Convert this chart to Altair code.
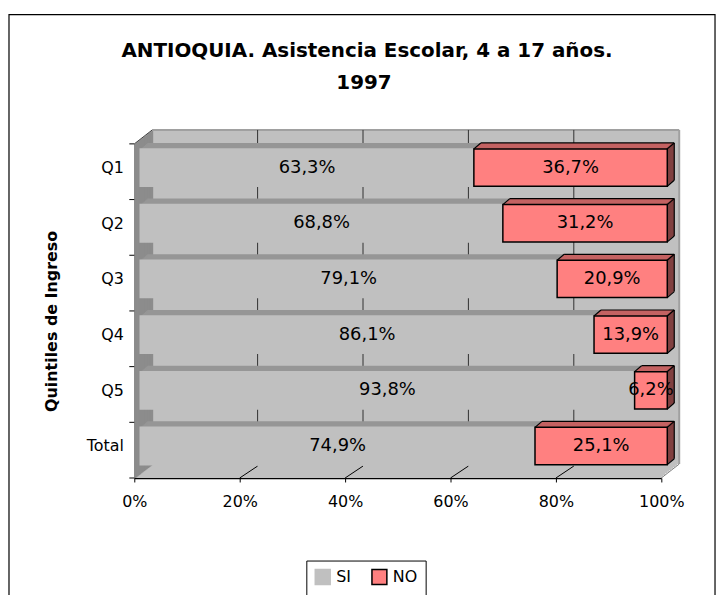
import json
import altair as alt
import pandas as pd

# ---- data ----
cats = ["Q1", "Q2", "Q3", "Q4", "Q5", "Total"]
si_vals = [63.3, 68.8, 79.1, 86.1, 93.8, 74.9]
no_vals = [36.7, 31.2, 20.9, 13.9, 6.2, 25.1]
series = ["SI", "NO"]
x_ticks = [0, 20, 40, 60, 80, 100]
title_lines = ["ANTIOQUIA. Asistencia Escolar, 4 a 17 años.", "1997"]
y_title = "Quintiles de Ingreso"

# ---- style constants ----
FONT = "DejaVu Sans"
W, H = 530, 336
WALL_DX, WALL_DY = 18, -14      # depth of the 3D walls (px)
BAR_FX = 6                      # bar front plane shift (px)
BAR_DX, BAR_DY = 7, -6          # depth of each 3D bar (px)
BAND_TOP, BAND_BOT = 0.09, 0.76 # bar front face within category slot
GREY = "#C0C0C0"
SI_TOP = "#969696"
NO_FRONT, NO_TOP, NO_SIDE = "#FF8080", "#C46262", "#804040"
WALL_SIDE = "#8C8C8C"


def fmt(v):
    return f"{v:.1f}".replace(".", ",") + "%"


rows = []
for i, c in enumerate(cats):
    top, bot = i + BAND_TOP, i + BAND_BOT
    s, n = si_vals[i], no_vals[i]
    rows.append(dict(cat=c, serie="SI", start=0.0, end=s, top=top, bot=bot,
                     mid=(top + bot) / 2, xm=s / 2, label=fmt(s)))
    rows.append(dict(cat=c, serie="NO", start=s, end=s + n, top=top, bot=bot,
                     mid=(top + bot) / 2, xm=s + n / 2, label=fmt(n)))
df = pd.DataFrame(rows)

furn = pd.DataFrame({"x0": [0], "x1": [100], "y0": [0], "y1": [len(cats)]})
grid = pd.DataFrame({"v": x_ticks[1:-1], "y0": [0] * 4, "y1": [len(cats)] * 4})
bounds = pd.DataFrame({"b": list(range(len(cats) + 1)), "x0": [0] * (len(cats) + 1)})

XS = alt.Scale(domain=[0, 100], nice=False, zero=False)
YS = alt.Scale(domain=[0, len(cats)], reverse=True, nice=False, zero=False)
XA = alt.Axis(values=x_ticks, labelExpr="datum.value + '%'", title=None, grid=False,
              domainColor="black", domainWidth=1.5, tickColor="black", tickSize=4,
              labelFlush=False, labelOverlap=False,
              labelFont=FONT, labelFontSize=16, labelColor="black", labelPadding=12)
YA = alt.Axis(values=[i + (BAND_TOP + BAND_BOT) / 2 for i in range(len(cats))],
              labelExpr=f"{json.dumps(cats)}[floor(datum.value)]",
              title=y_title, titleFont=FONT, titleFontSize=16, titleFontWeight="bold",
              titleColor="black", titleX=-83, titleY=178, titleAngle=270,
              titleAlign="center", titleBaseline="middle",
              grid=False, ticks=False, domainColor="black", domainWidth=1.5,
              labelFlush=False, labelOverlap=False,
              labelFont=FONT, labelFontSize=16, labelColor="black", labelPadding=11)


def X(f):
    return alt.X(f, type="quantitative", scale=XS, axis=XA)


def Y(f):
    return alt.Y(f, type="quantitative", scale=YS, axis=YA)


def rect(data, x, x2, y, y2, xo=0, x2o=0, yo=0, y2o=0, flt=None, **kw):
    ch = alt.Chart(data)
    if flt:
        ch = ch.transform_filter(alt.datum.serie == flt)
    return ch.mark_rect(xOffset=xo, x2Offset=x2o, yOffset=yo, y2Offset=y2o, **kw).encode(
        x=X(x), x2=x2, y=Y(y), y2=y2)


def rule(data, x, x2, y, y2, xo=0, x2o=0, yo=0, y2o=0, flt=None, **kw):
    ch = alt.Chart(data)
    if flt:
        ch = ch.transform_filter(alt.datum.serie == flt)
    enc = dict(x=X(x), y=Y(y))
    if x2:
        enc["x2"] = x2
    if y2:
        enc["y2"] = y2
    return ch.mark_rule(xOffset=xo, x2Offset=x2o, yOffset=yo, y2Offset=y2o, **kw).encode(**enc)


layers = []
# outer frame
layers.append(alt.Chart(furn).mark_rect(filled=False, stroke="black", strokeWidth=1.2).encode(
    x=alt.value(-126), x2=alt.value(584), y=alt.value(-130), y2=alt.value(470)))
# title (two lines)
for line, tx, ty in [(title_lines[0], 234, -93), (title_lines[1], 231, -61)]:
    layers.append(alt.Chart(pd.DataFrame({"t": [line]})).mark_text(
        font=FONT, fontSize=20, fontWeight="bold", color="black", align="center",
        baseline="middle").encode(x=alt.value(tx), y=alt.value(ty), text="t:N"))
# 3D wall block (extrusion of the plot plane)
for k in range(0, WALL_DX + 1, 2):
    dy = WALL_DY * k / WALL_DX
    layers.append(rect(furn, "x0", "x1", "y0", "y1", xo=k, x2o=k, yo=dy, y2o=dy, fill=GREY))
# left side wall
for k in range(0, WALL_DX):
    dy = WALL_DY * k / WALL_DX
    layers.append(rect(furn, "x0", "x0", "y0", "y1", xo=k, x2o=k + 2, yo=dy, y2o=dy, fill=WALL_SIDE))
# back wall top / right edges
layers.append(rule(furn, "x0", "x1", "y0", None, xo=WALL_DX, x2o=WALL_DX, yo=WALL_DY,
                   color="#A0A0A0", strokeWidth=2))
layers.append(rule(furn, "x1", None, "y0", "y1", xo=WALL_DX, yo=WALL_DY, y2o=WALL_DY,
                   color="#A0A0A0", strokeWidth=2))
# corner diagonals
layers.append(rule(furn, "x0", "x0", "y0", "y0", x2o=WALL_DX, y2o=WALL_DY, color="#404040", strokeWidth=1))
layers.append(rule(furn, "x1", "x1", "y1", "y1", x2o=WALL_DX, y2o=WALL_DY, color="#808080", strokeWidth=1))
# back wall gridlines
layers.append(rule(grid, "v", None, "y0", "y1", xo=WALL_DX, yo=WALL_DY, y2o=WALL_DY,
                   color="#303030", strokeWidth=1))
# floor gridlines
layers.append(rule(grid, "v", "v", "y1", "y1", x2o=WALL_DX, y2o=WALL_DY + 2,
                   color="black", strokeWidth=1))
# category boundary ticks on the y axis
layers.append(alt.Chart(bounds).mark_rule(xOffset=-5, color="black", strokeWidth=1).encode(
    x=X("x0"), x2="x0", y=Y("b")))

# bars: SI top face
for j in range(1, -BAR_DY + 1):
    off = BAR_FX + j * BAR_DX / -BAR_DY
    layers.append(rect(df, "start", "end", "top", "top", xo=off, x2o=off, yo=-j, y2o=-j + 2,
                       flt="SI", fill=SI_TOP))
# NO top face
for j in range(1, -BAR_DY + 1):
    off = BAR_FX + j * BAR_DX / -BAR_DY
    layers.append(rect(df, "start", "end", "top", "top", xo=off, x2o=off, yo=-j, y2o=-j + 2,
                       flt="NO", fill=NO_TOP))
# NO side face
for k in range(1, BAR_DX + 1):
    dy = BAR_DY * k / BAR_DX
    layers.append(rect(df, "end", "end", "top", "bot", xo=BAR_FX + k - 2, x2o=BAR_FX + k,
                       yo=dy, y2o=dy, flt="NO", fill=NO_SIDE))
# front faces with legend
legend = alt.Legend(orient="none", legendX=173, legendY=419, direction="horizontal",
                    title=None, strokeColor="black", fillColor="white", padding=8,
                    symbolType="square", symbolSize=225, symbolStrokeWidth=1.5,
                    labelFont=FONT, labelFontSize=16, labelColor="black",
                    columnPadding=18, labelOffset=5)
layers.append(alt.Chart(df).mark_rect(xOffset=BAR_FX, x2Offset=BAR_FX, strokeWidth=1.5).encode(
    x=X("start"), x2="end", y=Y("top"), y2="bot",
    color=alt.Color("serie:N", scale=alt.Scale(domain=series, range=[GREY, NO_FRONT]), legend=legend),
    stroke=alt.Stroke("serie:N", scale=alt.Scale(domain=series, range=[GREY, "black"]), legend=legend),
))
# NO outlines
o = BAR_FX + BAR_DX
oc = dict(color="black", strokeWidth=1.2, flt="NO")
layers.append(rule(df, "start", "start", "top", "top", xo=BAR_FX, x2o=o, y2o=BAR_DY, **oc))
layers.append(rule(df, "start", "end", "top", "top", xo=o, x2o=o, yo=BAR_DY, y2o=BAR_DY, **oc))
layers.append(rule(df, "end", "end", "top", "top", xo=BAR_FX, x2o=o, y2o=BAR_DY, **oc))
layers.append(rule(df, "end", None, "top", "bot", xo=o, yo=BAR_DY, y2o=BAR_DY, **oc))
layers.append(rule(df, "end", "end", "bot", "bot", xo=BAR_FX, x2o=o, y2o=BAR_DY, **oc))
# value labels
layers.append(alt.Chart(df).mark_text(dx=BAR_FX, font=FONT, fontSize=18, color="black",
                                      baseline="middle", align="center").encode(
    x=X("xm"), y=Y("mid"), text="label:N"))

chart = alt.layer(*layers).properties(
    width=W, height=H,
    autosize=alt.AutoSizeParams(type="none"),
    padding={"left": 127, "top": 135, "right": 57, "bottom": 116},
).configure_view(strokeWidth=0).configure(background="white")

chart.save("out.html", embed_options={"renderer": "svg", "actions": False})
